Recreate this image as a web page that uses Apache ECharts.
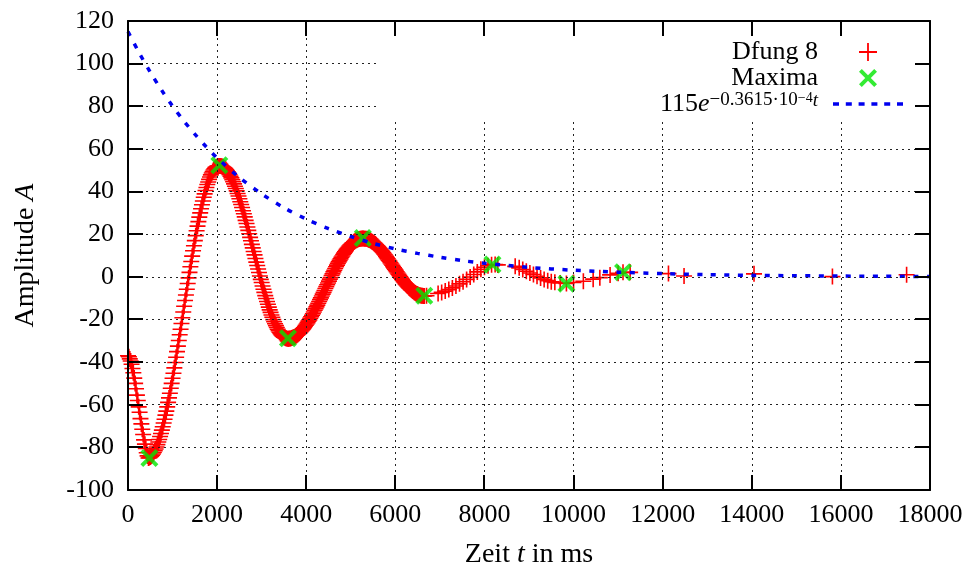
<!DOCTYPE html>
<html><head><meta charset="utf-8">
<script src="https://cdn.jsdelivr.net/npm/echarts@6/dist/echarts.min.js"></script>
<style>html,body{margin:0;padding:0;background:#fff}#c{width:972px;height:574px}</style>
</head><body><div id="c"></div>
<script>
// ---- data ----
const xTickValues = [0,2000,4000,6000,8000,10000,12000,14000,16000,18000];
const yTickValues = [-100,-80,-60,-40,-20,0,20,40,60,80,100,120];

const dfungT = [
0,20,40,60,80,100,120,140,160,180,200,220,240,260,280,300,320,340,360,380,400,420,440,
460,480,500,520,540,560,580,600,620,640,660,680,700,720,740,760,780,800,820,840,860,880,900,920,940,960,980,1000,1020,1040,1060,1080,1100,1120,1140,1160,1180,1200,1220,1240,1260,1280,1300,1320,1340,1360,1380,1400,1420,1440,1460,1480,1500,1520,1540,1560,1580,1600,1620,1640,1660,1680,1700,1720,1740,1760,1780,1800,1820,1840,1860,1880,1900,1920,1940,1960,1980,2000,2020,2040,2060,
2080,2100,2120,2140,2160,2180,2200,2220,2240,2260,2280,2300,2320,2340,2360,2380,2400,2420,2440,2460,2480,2500,2520,2540,2560,2580,2600,2620,2640,2660,2680,2700,2720,2740,2760,2780,2800,2820,2840,2860,2880,2900,2920,2940,2960,2980,3000,3020,3040,3060,3080,3100,3120,3140,3160,3180,3200,3220,3240,3260,3280,3300,3320,3340,3360,3380,3400,3420,3440,3460,3480,3500,3520,3540,3560,3580,3600,
3610,3630,3650,3670,3690,3710,3730,3750,3770,3790,3810,3830,3850,3870,3890,3910,3930,3950,3970,3990,4010,4030,4050,4070,4090,4110,4130,4150,4170,4190,4210,4230,4250,4270,4290,4310,4330,4350,4370,4390,4410,4430,4450,4470,4490,4510,4530,4550,4570,4590,4610,4630,4650,4670,4690,4710,4730,4750,4770,4790,4810,4830,4850,4870,4890,4910,4930,4950,4970,4990,5010,5030,5050,5070,5090,5110,5130,5150,5170,5190,5210,5230,5250,5270,
5290,5310,5330,5350,5370,5390,5410,5430,5450,5470,5490,5510,5530,5550,5570,5590,5610,5630,5650,5670,5690,5710,5730,5750,5770,5790,5810,5830,5850,5870,5890,5910,5930,5950,5970,5990,6010,6030,6050,6070,6090,6110,6130,6150,6170,6190,6210,6230,6250,6270,6290,6310,6330,6350,6370,6390,6410,6430,6450,6470,6490,6510,6530,6550,6570,6590,6610,6630,6650,
6700,6960,7040,7120,7200,7280,7360,7440,7520,7600,7680,7760,7840,7920,8000,8080,8160,8240,
8300,8690,8780,8860,8940,9020,9100,9180,9260,9340,9420,9500,9580,9700,9840,
10000,10220,10440,10590,10820,11000,11110,11270,
12130,12480,14050,15810,17475];
const dfungV = [
-37,-37.5,-38.5,-39.5,-41,-43,-45,-47.5,-50,-52.5,-55.5,-58,-61,-63.5,-66.5,-69,-71.5,-74,-76.5,-78.5,-80.5,-82.5,-84,
-85.0,-84.8,-84.5,-84.2,-83.7,-83.1,-82.4,-81.6,-80.8,-79.8,-78.7,-77.5,-76.3,-74.9,-73.5,-71.9,-70.3,-68.6,-66.8,-64.9,-63.0,-61.0,-58.9,-56.8,-54.6,-52.3,-50.0,-47.6,-45.2,-42.7,-40.2,-37.7,-35.1,-32.5,-29.9,-27.2,-24.6,-21.9,-19.2,-16.5,-13.8,-11.1,-8.5,-5.8,-3.1,-0.5,2.1,4.7,7.2,9.7,12.2,14.6,17.0,19.3,21.6,23.8,25.9,28.0,30.0,31.9,33.8,35.6,37.3,38.9,40.5,41.9,43.3,44.5,45.7,46.8,47.8,48.7,49.4,50.1,50.7,51.2,51.5,51.8,52.0,52.0,52.0,
52.0,51.9,51.7,51.5,51.1,50.8,50.3,49.8,49.3,48.6,47.9,47.2,46.4,45.5,44.6,43.6,42.5,41.4,40.3,39.1,37.9,36.6,35.2,33.9,32.5,31.0,29.6,28.1,26.5,25.0,23.4,21.8,20.2,18.5,16.9,15.2,13.6,11.9,10.3,8.6,6.9,5.3,3.7,2.0,0.4,-1.2,-2.7,-4.3,-5.8,-7.3,-8.8,-10.2,-11.6,-12.9,-14.2,-15.5,-16.7,-17.9,-19.0,-20.1,-21.1,-22.0,-22.9,-23.8,-24.6,-25.3,-26.0,-26.6,-27.1,-27.6,-28.0,-28.3,-28.6,-28.8,-28.9,-29.0,-29.0,
-29.0,-28.9,-28.9,-28.7,-28.6,-28.4,-28.2,-28.0,-27.7,-27.4,-27.0,-26.7,-26.3,-25.9,-25.4,-24.9,-24.4,-23.9,-23.3,-22.7,-22.1,-21.5,-20.8,-20.2,-19.4,-18.7,-18.0,-17.3,-16.5,-15.7,-14.9,-14.1,-13.3,-12.4,-11.6,-10.7,-9.9,-9.0,-8.1,-7.3,-6.4,-5.5,-4.6,-3.7,-2.9,-2.0,-1.1,-0.3,0.6,1.4,2.3,3.1,3.9,4.7,5.5,6.3,7.0,7.7,8.4,9.2,9.8,10.5,11.1,11.7,12.3,12.9,13.4,13.9,14.4,14.9,15.3,15.7,16.0,16.4,16.7,17.0,17.2,17.4,17.6,17.7,17.9,17.9,18.0,18.0,
18.0,17.9,17.9,17.8,17.7,17.5,17.3,17.1,16.9,16.6,16.3,16.0,15.7,15.4,15.0,14.6,14.2,13.7,13.3,12.8,12.3,11.8,11.3,10.7,10.2,9.6,9.0,8.4,7.8,7.3,6.6,6.0,5.4,4.8,4.2,3.6,3.0,2.4,1.8,1.2,0.6,0.0,-0.6,-1.2,-1.7,-2.3,-2.8,-3.3,-3.8,-4.3,-4.7,-5.2,-5.6,-6.0,-6.3,-6.7,-7.0,-7.3,-7.6,-7.9,-8.1,-8.3,-8.5,-8.7,-8.8,-8.9,-8.9,-9.0,-9.0,
-8.9,-7.8,-7.3,-6.7,-6.0,-5.2,-4.3,-3.3,-2.3,-1.2,-0.1,1.1,2.3,3.5,4.5,5.2,5.7,5.8,
5.6,4.9,4.2,3.4,2.6,1.8,1.1,0.3,-0.5,-1.2,-1.8,-2.3,-2.6,-2.9,-3.1,
-2.7,-2.1,-1.1,-0.4,0.9,1.7,2.1,2.1,
1.5,0.4,1.4,0.1,1.0];

const maximaT = [480, 2050, 3590, 5270, 6650, 8180, 9840, 11110];
const maximaV = [-85, 52.3, -28.8, 18.2, -8.9, 5.8, -3.2, 2.2];

const fitT = [0,250,500,750,1000,1250,1500,1750,2000,2500,3000,3500,4000,4500,5000,5500,6000,6500,7000,7500,8000,9000,10000,11000,12000,13000,14000,15000,16000,17000,18000];
const fitV = [115,105.1,96.0,87.7,80.1,73.2,66.9,61.1,55.8,46.6,38.9,32.4,27.1,22.6,18.9,15.7,13.1,11.0,9.2,7.6,6.4,4.4,3.1,2.2,1.5,1.0,0.7,0.5,0.35,0.25,0.17];

const seriesNames = ['Dfung 8', 'Maxima', '115e^(-0.3615·10^-4 t)'];

// ---- style / layout ----
const FONT = '"Liberation Serif", "DejaVu Serif", serif';
const FS = 26, NAME_FS = 28;
const W = 972, H = 574;
const GRID = {left:128, right:42, top:21, bottom:84};
const TICK_PX = 15;
const plusPath = 'path://M0,7.2H16V8.8H0Z M7.2,0H8.8V16H7.2Z';
const crossPath = 'path://M2.8,0 L9,6.2 L15.2,0 L18,2.8 L11.8,9 L18,15.2 L15.2,18 L9,11.8 L2.8,18 L0,15.2 L6.2,9 L0,2.8 Z';
const dashPath = 'path://M0,0h6v3.6h-6z M12.8,0h6v3.6h-6z M25.6,0h6v3.6h-6z M38.4,0h6v3.6h-6z M51.2,0h6v3.6h-6z M64,0h6v3.6h-6z';

const xMin = xTickValues[0], xMax = xTickValues[xTickValues.length-1], xInt = xTickValues[1]-xTickValues[0];
const yMin = yTickValues[0], yMax = yTickValues[yTickValues.length-1], yInt = yTickValues[1]-yTickValues[0];

// region of the plot kept free of grid lines (behind the key)
const keyLeftX = 5650, keyBottomY = 73.7;
const gridSegments = [];
xTickValues.slice(1, -1).forEach(x => {
  gridSegments.push([{coord:[x, yMin]}, {coord:[x, x >= keyLeftX ? keyBottomY : yMax]}]);
});
yTickValues.slice(1, -1).forEach(y => {
  gridSegments.push([{coord:[xMin, y]}, {coord:[y >= keyBottomY ? keyLeftX : xMax, y]}]);
});

function frameLine() { return {show:true, onZero:false, lineStyle:{color:'#000', width:2}}; }
function labelStyle(margin) { return {show:true, margin, color:'#000', fontFamily:FONT, fontSize:FS, formatter: v => String(v)}; }
const italicRich = {i:{fontStyle:'italic', fontFamily:FONT, fontSize:NAME_FS, color:'#000'}};

function pairs(a, b) { const n = Math.min(a.length, b.length); const out = []; for (let i = 0; i < n; i++) out.push([a[i], b[i]]); return out; }

const chart = echarts.init(document.getElementById('c'), null, {renderer:'canvas'});
const option = {
  animation:false,
  backgroundColor:'#fff',
  grid:Object.assign({containLabel:false}, GRID),
  xAxis:[
    {type:'value', min:xMin, max:xMax, interval:xInt, position:'bottom', z:5,
      axisLine:frameLine(), axisTick:{show:false}, axisLabel:labelStyle(12), splitLine:{show:false},
      name:'Zeit {i|t} in ms', nameLocation:'middle', nameGap:51,
      nameTextStyle:{color:'#000', fontFamily:FONT, fontSize:NAME_FS, rich:italicRich}},
    {type:'value', min:xMin, max:xMax, interval:xInt, position:'top', z:5,
      axisLine:frameLine(), axisTick:{show:false}, axisLabel:{show:false}, splitLine:{show:false}}
  ],
  yAxis:[
    {type:'value', min:yMin, max:yMax, interval:yInt, position:'left', z:5,
      axisLine:frameLine(), axisTick:{show:false}, axisLabel:labelStyle(14), splitLine:{show:false},
      name:'Amplitude {i|A}', nameLocation:'middle', nameGap:88, nameRotate:90,
      nameTextStyle:{color:'#000', fontFamily:FONT, fontSize:NAME_FS, rich:italicRich}},
    {type:'value', min:yMin, max:yMax, interval:yInt, position:'right', z:5,
      axisLine:frameLine(), axisTick:{show:false}, axisLabel:{show:false}, splitLine:{show:false}}
  ],
  legend:{
    orient:'vertical', right:69, top:39, align:'right', padding:0,
    itemWidth:70, itemHeight:18, itemGap:0,
    data:[{name:seriesNames[0], icon:plusPath},{name:seriesNames[1], icon:crossPath},{name:seriesNames[2], icon:dashPath}],
    formatter: function(name){
      if (name === seriesNames[2]) return '115{it|e}{sup|−0.3615·10}{sup2|−4}{supi|t}';
      return name;
    },
    textStyle:{color:'#000', fontFamily:FONT, fontSize:FS, lineHeight:26, padding:[0,10,0,0],
      rich:{
        it:{fontStyle:'italic', fontFamily:FONT, fontSize:FS, color:'#000', lineHeight:26},
        sup:{fontFamily:FONT, fontSize:19, color:'#000', verticalAlign:'top', lineHeight:19},
        sup2:{fontFamily:FONT, fontSize:14, color:'#000', verticalAlign:'top', lineHeight:14},
        supi:{fontFamily:FONT, fontStyle:'italic', fontSize:19, color:'#000', verticalAlign:'top', lineHeight:19}
      }}
  },
  series:[
    {name:'grid', type:'line', xAxisIndex:0, yAxisIndex:0, z:1, silent:true, data:[], showSymbol:false,
     markLine:{silent:true, symbol:['none','none'], label:{show:false}, animation:false,
       lineStyle:{color:'#222', width:1, type:[2,4]}, emphasis:{disabled:true},
       data:gridSegments}},
    {name:seriesNames[0], type:'scatter', xAxisIndex:0, yAxisIndex:0, z:2,
     symbol:plusPath, symbolSize:16, itemStyle:{color:'#ff0000', opacity:1},
     data: pairs(dfungT, dfungV)},
    {name:seriesNames[1], type:'scatter', xAxisIndex:0, yAxisIndex:0, z:3,
     symbol:crossPath, symbolSize:18, itemStyle:{color:'#00e600'},
     data: pairs(maximaT, maximaV)},
    {name:seriesNames[2], type:'line', xAxisIndex:0, yAxisIndex:0, z:4,
     symbol:'none', showSymbol:false, smooth:0.3,
     lineStyle:{color:'#0000ee', width:3.5, type:[5,8.5]}, itemStyle:{color:'#0000ee'},
     data: pairs(fitT, fitV)}
  ]
};
chart.setOption(option);

// mirrored inward tick marks on all four sides, positioned through the axes' own scales
function toPx(x, y) {
  let p = chart.convertToPixel({xAxisIndex:0, yAxisIndex:0}, [x, y]);
  if (!p || !isFinite(p[0]) || !isFinite(p[1])) {
    const pw = W - GRID.left - GRID.right, ph = H - GRID.top - GRID.bottom;
    p = [GRID.left + (x - xMin) / (xMax - xMin) * pw, GRID.top + (yMax - y) / (yMax - yMin) * ph];
  }
  return p;
}
const tickLines = [];
const corner0 = toPx(xMin, yMin), corner1 = toPx(xMax, yMax);
const xLeft = corner0[0], yBottom = corner0[1], xRight = corner1[0], yTop = corner1[1];
xTickValues.slice(1, -1).forEach(x => {
  const X = Math.round(toPx(x, yMin)[0]);
  tickLines.push({x1:X, y1:yBottom, x2:X, y2:yBottom - TICK_PX});
  tickLines.push({x1:X, y1:yTop, x2:X, y2:yTop + TICK_PX});
});
yTickValues.slice(1, -1).forEach(y => {
  const Y = Math.round(toPx(xMin, y)[1]);
  tickLines.push({x1:xLeft, y1:Y, x2:xLeft + TICK_PX, y2:Y});
  tickLines.push({x1:xRight, y1:Y, x2:xRight - TICK_PX, y2:Y});
});
chart.setOption({graphic:{elements: tickLines.map(s => ({
  type:'line', silent:true, z:100, shape:s, style:{stroke:'#000', lineWidth:2}
}))}});
</script></body></html>
